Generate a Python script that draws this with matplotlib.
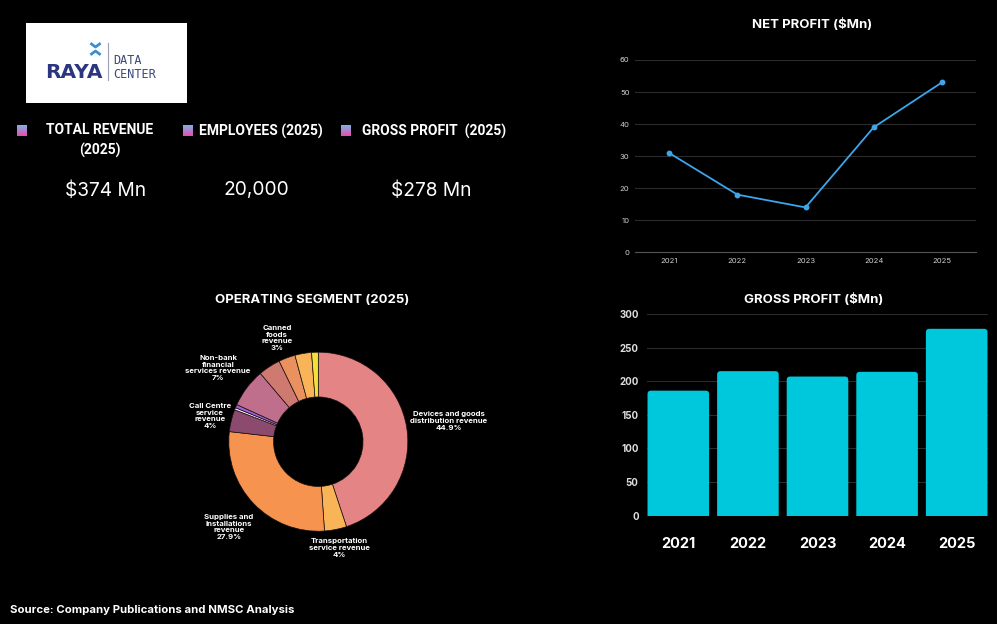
import numpy as np
import matplotlib
matplotlib.use("Agg")
import matplotlib.pyplot as plt
from matplotlib.patches import FancyBboxPatch

plt.rcParams['font.family'] = ['Inter', 'DejaVu Sans']

W, H = 997, 624

# data
years = ["2021", "2022", "2023", "2024", "2025"]
net_profit = [31, 18, 14, 39, 53]
gross_profit = [186, 215, 207, 214, 278]

segment_labels = [
    "Devices and goods\ndistribution revenue\n44.9%",
    "Transportation\nservice revenue\n4%",
    "Supplies and\nInstallations\nrevenue\n27.9%",
    "Call Centre\nservice\nrevenue\n4%",
    "",
    "",
    "Non-bank\nfinancial\nservices revenue\n7%",
    "",
    "",
    "Canned\nfoods\nrevenue\n3%",
    "",
]
segment_share = [44.9, 4, 27.9, 4, 0.4, 0.6, 7, 4, 3, 3, 1.2]
segment_colors = ["#e48484", "#f9b457", "#f6944f", "#8c4a6f", "#f2e6f2", "#9e5fd6",
                  "#bf6f8c", "#cf7a70", "#e9925f", "#f8b456", "#f5e03a"]
# label anchor points in pixels (centre of each text block)
label_pos = [(449, 421), (339, 548), (229, 527), (210, 416), None, None,
             (218, 368), None, None, (277, 338), None]

kpi_titles = ["TOTAL REVENUE\n(2025)", "EMPLOYEES (2025)", "GROSS PROFIT  (2025)"]
kpi_values = ["$374 Mn", "20,000", "$278 Mn"]

BG = "black"
TXT = "white"
GRID = "#2b2b2b"


def fx(x):
    return x / W


def fy(y):
    return 1 - y / H


def px_axes(x0, y0, x1, y1):
    # axes placed by pixel box (top-left origin)
    return fig.add_axes([fx(x0), fy(y1), (x1 - x0) / W, (y1 - y0) / H])


fig = plt.figure(figsize=(W / 100, H / 100), dpi=100, facecolor=BG)

# ---- logo box ----
lax = px_axes(25.5, 23, 186.5, 103)
lax.set_facecolor("white")
lax.set_xlim(0, 161)
lax.set_ylim(80, 0)
lax.set_xticks([])
lax.set_yticks([])
for s in lax.spines.values():
    s.set_visible(False)
lax.text(48, 50, "RAYA", color="#2b3580", fontsize=14.5, fontweight="bold",
         ha="center", va="center", family=["DejaVu Sans"])
lax.plot([66, 70, 74], [21, 24, 21], color="#3e8fd0", lw=2)
lax.plot([66, 70, 74], [31, 28, 31], color="#3e8fd0", lw=2)
lax.plot([82.5, 82.5], [20, 57], color="#9aa0b8", lw=0.8)
lax.text(88, 38, "DATA", color="#3a4a7a", fontsize=8.5, ha="left", va="center",
         family=["DejaVu Sans Mono"])
lax.text(88, 52, "CENTER", color="#3a4a7a", fontsize=8.5, ha="left", va="center",
         family=["DejaVu Sans Mono"])

# ---- KPI block ----
grad = np.linspace(0, 1, 20).reshape(-1, 1)
cmap = matplotlib.colors.LinearSegmentedColormap.from_list("kpi", ["#7fb0e6", "#e64fb0"])
square_x = [17, 183, 341]
title_pos = [(100, 130), (261, 131), (434, 131)]
value_pos = [(106, 191), (256, 190), (431, 191)]
kpi_font = ["Roboto", "DejaVu Sans"]
for i in range(3):
    sq = px_axes(square_x[i], 125, square_x[i] + 10, 136)
    sq.imshow(grad, cmap=cmap, aspect="auto")
    sq.axis("off")
    lines = kpi_titles[i].split("\n")
    for j, line in enumerate(lines):
        fig.text(fx(title_pos[i][0]), fy(title_pos[i][1] + 20 * j), line, color=TXT,
                 fontsize=10, fontweight="bold", ha="center", va="center",
                 family=kpi_font)
    fig.text(fx(value_pos[i][0]), fy(value_pos[i][1]), kpi_values[i], color=TXT,
             fontsize=13.8, ha="center", va="center")

# ---- net profit line chart ----
ax1 = px_axes(635, 60, 976, 252.3)
ax1.set_facecolor(BG)
x = np.arange(len(years))
ax1.plot(x, net_profit, color="#3da5ea", lw=1.3, marker="o", markersize=3.2)
ax1.set_xlim(-0.5, 4.5)
ax1.set_ylim(0, 60)
ax1.set_yticks(range(0, 61, 10))
ax1.set_xticks(x)
ax1.set_xticklabels(years)
ax1.grid(axis="y", color=GRID, lw=0.8)
ax1.set_axisbelow(True)
for s in ["top", "right", "left"]:
    ax1.spines[s].set_visible(False)
ax1.spines["bottom"].set_color("#555555")
ax1.tick_params(colors="#cfcfcf", labelsize=5.5, length=0, pad=4)
fig.text(fx(812), fy(25), "NET PROFIT ($Mn)", color=TXT, fontsize=9.5,
         fontweight="bold", ha="center", va="center")

# ---- gross profit bar chart ----
ax2 = px_axes(647, 314, 988, 515.7)
ax2.set_facecolor(BG)
bars = ax2.bar(x, gross_profit, width=0.885, color="#00c8dc")
# swap plain bars for ones with rounded top corners
for b in bars:
    b.set_visible(False)
    ax2.add_patch(FancyBboxPatch((b.get_x(), -10), b.get_width(), b.get_height() + 10,
                                 boxstyle="round,pad=0,rounding_size=0.05",
                                 mutation_aspect=100, facecolor="#00c8dc",
                                 edgecolor="none", clip_on=True))
ax2.set_xlim(-0.45, 4.45)
ax2.set_ylim(0, 300)
ax2.set_yticks(range(0, 301, 50))
ax2.set_xticks(x)
ax2.set_xticklabels(years, fontsize=10.5, fontweight="bold", color=TXT)
ax2.grid(axis="y", color=GRID, lw=0.8)
ax2.set_axisbelow(True)
for s in ax2.spines.values():
    s.set_visible(False)
ax2.tick_params(axis="y", colors="#dddddd", labelsize=7, length=0, pad=6)
ax2.tick_params(axis="x", length=0, pad=15)
for lab in ax2.get_yticklabels():
    lab.set_fontweight("bold")
fig.text(fx(814), fy(299), "GROSS PROFIT ($Mn)", color=TXT, fontsize=9.5,
         fontweight="bold", ha="center", va="center")

# ---- operating segment donut ----
cx, cy, r = 318.3, 441.7, 89.5
ax3 = px_axes(cx - r, cy - r, cx + r, cy + r)
ax3.pie(segment_share, colors=segment_colors, startangle=90, counterclock=False,
        radius=1, wedgeprops=dict(width=0.5, edgecolor="#1a1010", linewidth=0.5))
ax3.set_xlim(-1, 1)
ax3.set_ylim(-1, 1)
ax3.set_aspect("equal")
ax3.axis("off")
for lab, pos in zip(segment_labels, label_pos):
    if pos is None:
        continue
    fig.text(fx(pos[0]), fy(pos[1]), lab, color=TXT, fontsize=5.6, fontweight="bold",
             ha="center", va="center", linespacing=1.15)
fig.text(fx(312), fy(300), "OPERATING SEGMENT (2025)", color=TXT, fontsize=9.5,
         fontweight="bold", ha="center", va="center")

fig.text(fx(10), fy(610), "Source: Company Publications and NMSC Analysis", color=TXT,
         fontsize=8.2, fontweight="bold", ha="left", va="center")

fig.savefig("out.png", dpi=100, facecolor=BG)
